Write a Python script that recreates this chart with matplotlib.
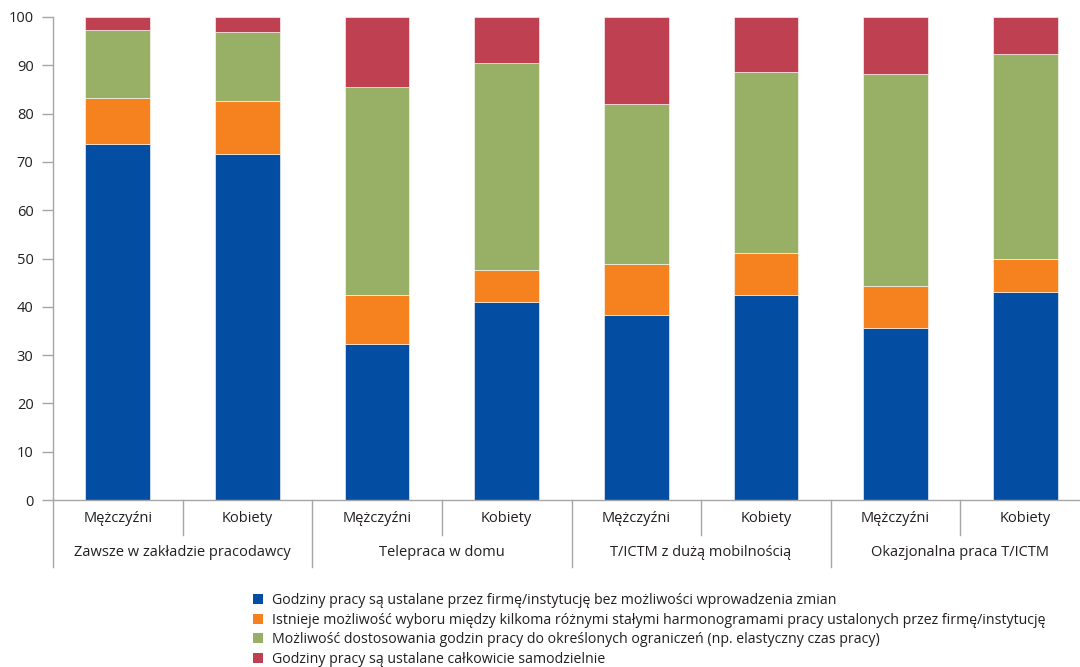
import matplotlib
matplotlib.use('Agg')
import matplotlib.pyplot as plt
import matplotlib.transforms as mtransforms
from matplotlib.patches import Patch

plt.rcParams['font.family'] = ['Open Sans', 'DejaVu Sans']

# dane (%)
groups = ['Zawsze w zakładzie pracodawcy', 'Telepraca w domu',
          'T/ICTM z dużą mobilnością', 'Okazjonalna praca T/ICTM']
sexes = ['Mężczyźni', 'Kobiety']
fixed = [73.8, 71.6, 32.4, 41.0, 38.2, 42.4, 35.6, 43.0]
choice = [9.5, 11.1, 10.0, 6.7, 10.7, 8.7, 8.7, 6.9]
flexible = [14.0, 14.1, 43.2, 42.7, 33.1, 37.5, 44.0, 42.4]
self_set = [2.7, 3.2, 14.4, 9.6, 18.0, 11.4, 11.7, 7.7]

labels = ['Godziny pracy są ustalane przez firmę/instytucję bez możliwości wprowadzenia zmian',
          'Istnieje możliwość wyboru między kilkoma różnymi stałymi harmonogramami pracy ustalonych przez firmę/instytucję',
          'Możliwość dostosowania godzin pracy do określonych ograniczeń (np. elastyczny czas pracy)',
          'Godziny pracy są ustalane całkowicie samodzielnie']
colors = ['#034EA2', '#F5821F', '#97B066', '#BF4050']

W, H = 1080, 667
fig = plt.figure(figsize=(W / 100, H / 100), dpi=100)
ax = fig.add_axes([53 / W, 1 - 500 / H, (1090 - 53) / W, 483 / H])

x = list(range(len(fixed)))
bottom = [0] * len(x)
for vals, c in zip([fixed, choice, flexible, self_set], colors):
    ax.bar(x, vals, width=0.5, bottom=bottom, color=c, edgecolor='white', linewidth=0.4)
    bottom = [b + v for b, v in zip(bottom, vals)]

ax.set_xlim(-0.5, 7.5)
ax.set_ylim(0, 100)
ax.set_yticks(range(0, 101, 10))
ax.tick_params(axis='y', length=8, width=1, color='#A6A6A6', labelsize=10.5,
               labelcolor='#231F20', pad=6)
ax.set_xticks([])
for s in ['top', 'right']:
    ax.spines[s].set_visible(False)
for s in ['left', 'bottom']:
    ax.spines[s].set_color('#A6A6A6')
    ax.spines[s].set_linewidth(1)

# etykiety osi X (dwupoziomowe)
tr = mtransforms.blended_transform_factory(ax.transData, ax.transAxes)
y_sub = -19 / 483
y_grp = -53 / 483
y_short = -35 / 483
y_long = -67 / 483
for i in x:
    ax.text(i, y_sub, sexes[i % 2], transform=tr, ha='center', va='center',
            fontsize=10.5, color='#231F20')
for g, name in enumerate(groups):
    ax.text(2 * g + 0.5, y_grp, name, transform=tr, ha='center', va='center',
            fontsize=10.5, color='#231F20')
for g in range(4):
    ax.plot([2 * g - 0.5] * 2, [0, y_long], transform=tr, color='#A6A6A6',
            lw=1, clip_on=False)
    ax.plot([2 * g + 0.5] * 2, [0, y_short], transform=tr, color='#A6A6A6',
            lw=1, clip_on=False)

handles = [Patch(facecolor=c, edgecolor='none') for c in colors]
fig.legend(handles, labels, loc='upper left', bbox_to_anchor=(246 / W, 1 - 586 / H),
           frameon=False, fontsize=10.2, handlelength=0.7, handleheight=0.7,
           handletextpad=0.6, labelspacing=0.32, borderpad=0, labelcolor='#231F20')

fig.savefig('out.png', dpi=100)
